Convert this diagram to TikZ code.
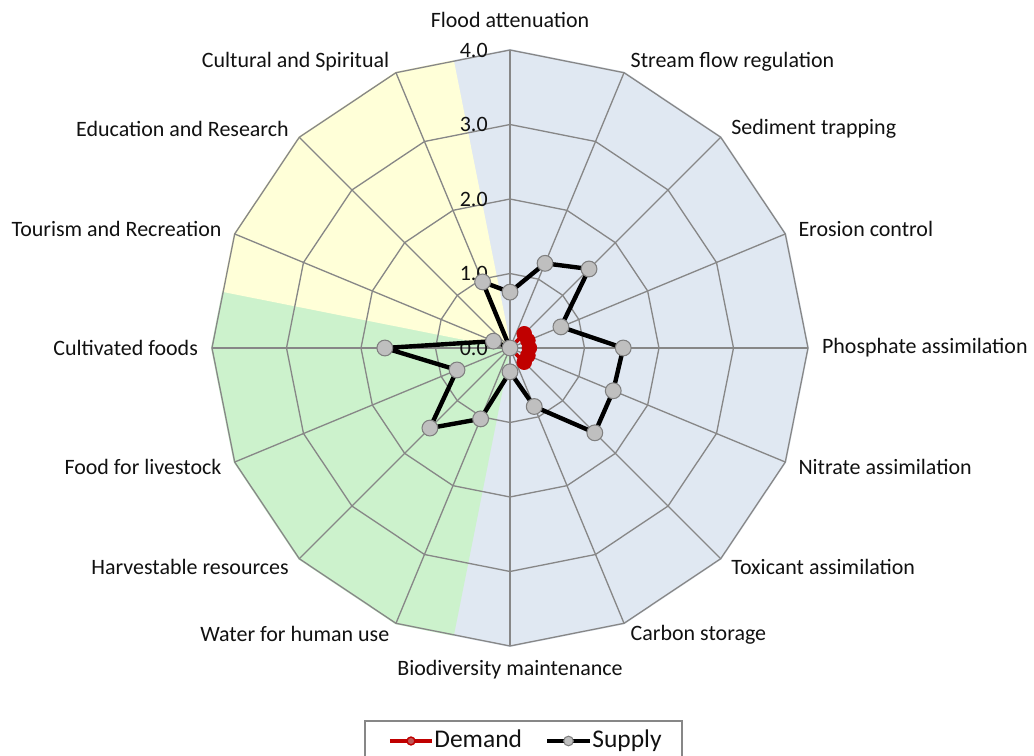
\documentclass[tikz,border=0pt]{standalone}
\usepackage{fontspec}
\setmainfont{Carlito}
\usepackage{tikz}
\usetikzlibrary{positioning,calc}
\definecolor{regblue}{HTML}{E0E8F2}
\definecolor{provgreen}{HTML}{CCF2CC}
\definecolor{cultyellow}{HTML}{FFFFD8}
\definecolor{gridgray}{HTML}{878787}
\definecolor{markgray}{HTML}{BFBFBF}
\definecolor{markedge}{HTML}{7F7F7F}
\definecolor{demandred}{HTML}{C00000}
\definecolor{txt}{HTML}{111111}
\tikzset{
  sector/.style={fill=#1, draw=#1, line width=1.2pt, line join=round},
  gridline/.style={draw=gridgray, line width=0.75pt},
  axislabel/.style={font=\fontsize{12.5}{14}\selectfont, text=txt, inner sep=1pt},
  ticklabel/.style={font=\fontsize{12.5}{14}\selectfont, text=txt, anchor=east, inner sep=0pt},
  supplyline/.style={line width=2.5pt, black, line join=round},
  supplymark/.style={circle, draw=markedge, fill=markgray, line width=0.6pt,
    minimum size=9pt, inner sep=0pt},
  demandline/.style={line width=2.2pt, demandred, line join=round},
  demandmark/.style={circle, draw=demandred, fill=demandred,
    minimum size=8.4pt, inner sep=0pt},
  legendbox/.style={rectangle, draw=gridgray, line width=0.85pt,
    minimum width=6.34cm, minimum height=1cm, inner sep=0pt},
  legendtext/.style={font=\fontsize{14.5}{16}\selectfont, text=txt, anchor=base west, inner sep=0pt},
}

\begin{document}
\begin{tikzpicture}[x=0.02cm, y=0.02cm]
    \useasboundingbox (-510,-408) rectangle (524,348);

    % Service groups behind the chart
    \path[sector=regblue] (0,0) -- (101.25:292.3)
      \foreach \a in {90,67.5,...,-90}{ -- (\a:298)} -- (-101.25:292.3) -- cycle;
    \path[sector=provgreen] (0,0) -- (-101.25:292.3)
      \foreach \a in {-112.5,-135,-157.5,-180}{ -- (\a:298)} -- (168.75:292.3) -- cycle;
    \path[sector=cultyellow] (0,0) -- (168.75:292.3)
      \foreach \a in {157.5,135,112.5}{ -- (\a:298)} -- (101.25:292.3) -- cycle;

    % Rings and spokes
    \foreach \k in {1,2,3,4}
      \draw[gridline] (0:{\k*74.5}) \foreach \a in {22.5,45,...,337.5}{ -- (\a:{\k*74.5})} -- cycle;
    \foreach \a in {0,22.5,...,337.5}
      \draw[gridline] (0,0) -- (\a:298);

    % Scale values
    \foreach \k in {0,...,4}
      \node[ticklabel] (tick\k) at (-22,{\k*74.5}) {\k.0};

    % Axis labels
    \node[axislabel, anchor=south] (flood) at (90:318) {Flood attenuation};
    \foreach \a/\txt/\anc/\nm in {
        67.5/Stream flow regulation/west/stream,
        45/Sediment trapping/west/sediment,
        22.5/Erosion control/west/erosion,
        0/Phosphate assimilation/west/phosphate,
        -22.5/Nitrate assimilation/west/nitrate,
        -45/Toxicant assimilation/west/toxicant,
        -67.5/Carbon storage/west/carbon,
        -90/Biodiversity maintenance/north/biodiv,
        -112.5/Water for human use/east/water,
        -135/Harvestable resources/east/harvest,
        -157.5/Food for livestock/east/livestock,
        180/Cultivated foods/east/cultivated,
        157.5/Tourism and Recreation/east/tourism,
        135/Education and Research/east/education,
        112.5/Cultural and Spiritual/east/cultural}
      \node[axislabel, anchor=\anc] (\nm) at (\a:310) {\txt};

    % Demand series
    \foreach \i/\v in {0/0, 1/0, 2/0.27, 3/0.26, 4/0.26, 5/0.26, 6/0.27, 7/0,
                       8/0, 9/0, 10/0, 11/0, 12/0, 13/0, 14/0, 15/0}
      \coordinate (d\i) at ({90-22.5*\i}:{\v*74.5});
    \draw[demandline] (d1) -- (d2) -- (d3) -- (d4) -- (d5) -- (d6) -- (d7);
    \foreach \i in {2,...,6}
      \node[demandmark] (demmark\i) at (d\i) {};

    % Supply series
    \foreach \i/\v in {0/0.75, 1/1.23, 2/1.5, 3/0.74, 4/1.52, 5/1.5, 6/1.61, 7/0.85,
                       8/0.32, 9/1.03, 10/1.52, 11/0.77, 12/1.68, 13/0.24, 14/0, 15/0.96}
      \coordinate (s\i) at ({90-22.5*\i}:{\v*74.5});
    \draw[supplyline] (s0) \foreach \i in {1,...,15}{ -- (s\i)} -- cycle;
    \foreach \i in {0,...,15}
      \node[supplymark] (supmark\i) at (s\i) {};

    % Legend
    \node[legendbox] (legend) at (13.5,-398) {};
    \coordinate (demA) at (-120,-393);
    \coordinate (demB) at (-78,-393);
    \draw[demandline, line width=2pt] (demA) -- (demB);
    \node[circle, draw=demandred, fill=demandred!55!markgray, minimum size=4.5pt,
          inner sep=0pt, line width=0.8pt] (demkey) at ($(demA)!0.5!(demB)$) {};
    \node[legendtext] (demtext) at (-76,-399) {Demand};
    \coordinate (supA) at (37,-393);
    \coordinate (supB) at (80,-393);
    \draw[supplyline, line width=2pt] (supA) -- (supB);
    \node[supplymark, minimum size=5.5pt] (supkey) at ($(supA)!0.5!(supB)$) {};
    \node[legendtext] (suptext) at (82,-399) {Supply};
\end{tikzpicture}
\end{document}
